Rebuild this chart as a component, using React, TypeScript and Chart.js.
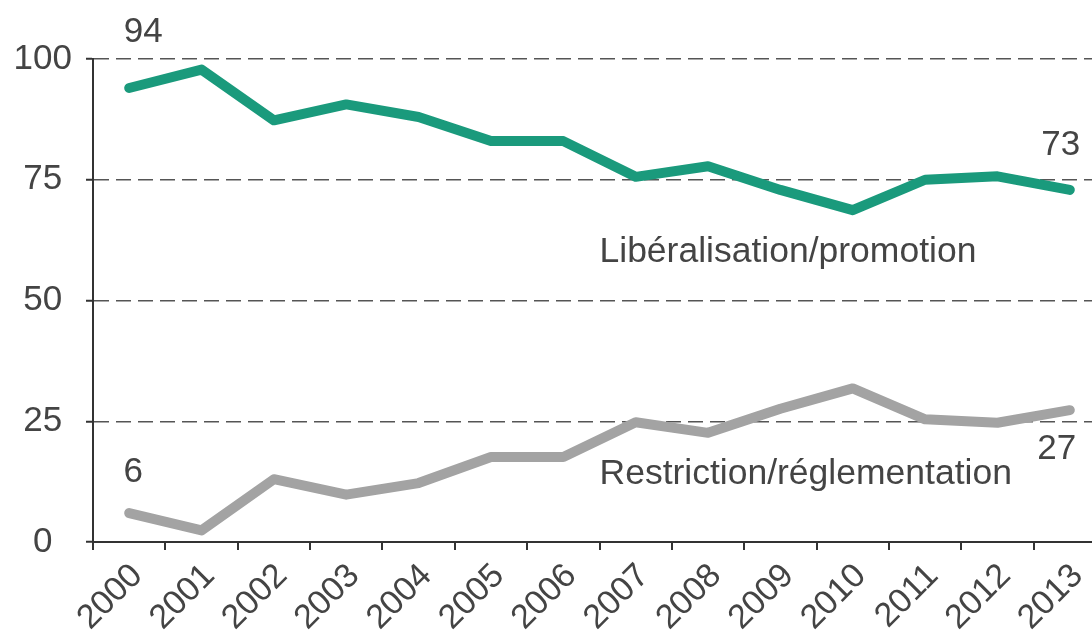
import React, { useEffect, useRef } from 'react';
import { Chart, registerables } from 'chart.js';

Chart.register(...registerables);

const years = ['2000', '2001', '2002', '2003', '2004', '2005', '2006', '2007', '2008', '2009', '2010', '2011', '2012', '2013'];
const liberalisation = [94, 97.8, 87.3, 90.6, 88, 83, 83, 75.6, 77.8, 72.9, 68.7, 75, 75.7, 72.9];
const restriction = [6, 2.4, 13, 9.8, 12.2, 17.6, 17.6, 24.8, 22.6, 27.6, 31.8, 25.4, 24.7, 27.3];
const yTicks = [0, 25, 50, 75, 100];
const seriesNames = ['Libéralisation/promotion', 'Restriction/réglementation'];
// label anchors in data units: [category index, value]
const seriesLabelAnchors = [[6.5, 60], [6.5, 14]];

const FONT = "'Liberation Sans', Arial, Helvetica, sans-serif";
const TEXT = '#444444';
const GREEN = '#1a9a7c';
const GREY = '#a3a3a3';

const labelPlugin = {
  id: 'seriesLabels',
  afterDatasetsDraw(chart: any) {
    const ctx = chart.ctx;
    const xs = chart.scales.x;
    const ys = chart.scales.y;
    ctx.save();
    ctx.fillStyle = TEXT;
    ctx.textBaseline = 'middle';
    ctx.textAlign = 'center';
    ctx.font = `35px ${FONT}`;
    const m0 = chart.getDatasetMeta(0).data;
    const m1 = chart.getDatasetMeta(1).data;
    const n = years.length - 1;
    ctx.fillText(String(Math.round(liberalisation[0])), m0[0].x + 14, m0[0].y - 56);
    ctx.fillText(String(Math.round(liberalisation[n])), m0[n].x - 9, m0[n].y - 45);
    ctx.fillText(String(Math.round(restriction[0])), m1[0].x + 4, m1[0].y - 41);
    ctx.fillText(String(Math.round(restriction[n])), m1[n].x - 13, m1[n].y + 39);
    ctx.textAlign = 'left';
    ctx.font = `35.5px ${FONT}`;
    seriesNames.forEach((name, i) => {
      const [cx, cy] = seriesLabelAnchors[i];
      ctx.fillText(name, xs.getPixelForValue(cx), ys.getPixelForValue(cy));
    });
    ctx.restore();
  },
};

export default function App() {
  const ref = useRef<HTMLCanvasElement | null>(null);
  useEffect(() => {
    if (!ref.current) return;
    const chart = new Chart(ref.current, {
      type: 'line',
      data: {
        labels: years,
        datasets: [
          {
            label: seriesNames[0],
            data: liberalisation,
            borderColor: GREEN,
            borderWidth: 10,
            pointRadius: 0,
            borderJoinStyle: 'round',
            borderCapStyle: 'round',
            tension: 0,
          },
          {
            label: seriesNames[1],
            data: restriction,
            borderColor: GREY,
            borderWidth: 10,
            pointRadius: 0,
            borderJoinStyle: 'round',
            borderCapStyle: 'round',
            tension: 0,
          },
        ],
      },
      options: {
        animation: false,
        responsive: false,
        devicePixelRatio: 1,
        layout: { padding: { top: 59, left: 0, right: 0, bottom: 0 } },
        plugins: { legend: { display: false }, tooltip: { enabled: false } },
        scales: {
          x: {
            offset: true,
            grid: { offset: true, drawOnChartArea: false, drawTicks: true, tickLength: 8, color: '#333', lineWidth: 2 },
            border: { display: true, color: '#333', width: 2 },
            ticks: {
              autoSkip: false,
              maxRotation: 45,
              minRotation: 45,
              color: TEXT,
              padding: 6,
              labelOffset: 8,
              font: { family: FONT, size: 34 },
            },
            afterFit(scale: any) {
              scale.height = 95;
            },
          },
          y: {
            min: 0,
            max: 100,
            afterBuildTicks(scale: any) {
              scale.ticks = yTicks.map((v) => ({ value: v }));
            },
            grid: {
              color: '#555',
              lineWidth: 1.5,
              tickLength: 7,
              tickColor: '#333',
              tickWidth: 2,
            },
            border: { display: true, color: '#333', width: 2, dash: [15, 7] },
            ticks: {
              color: TEXT,
              padding: 14,
              crossAlign: 'center',
              font: { family: FONT, size: 35 },
            },
            afterFit(scale: any) {
              scale.width = 93;
            },
          },
        },
      },
      plugins: [labelPlugin],
    } as any);
    return () => chart.destroy();
  }, []);
  return (
    <div style={{ position: 'fixed', left: 0, top: 0, width: 1092, height: 637, overflow: 'hidden', background: '#fff' }}>
      <canvas ref={ref} width={1106} height={637} style={{ width: 1106, height: 637, display: 'block' }} />
    </div>
  );
}
